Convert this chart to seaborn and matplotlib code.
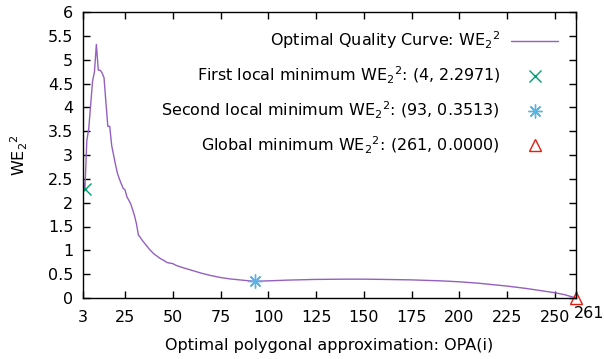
import numpy as np
import pandas as pd
import seaborn as sns
import matplotlib
matplotlib.use("Agg")
import matplotlib.pyplot as plt
import matplotlib.transforms as mtransforms

# Optimal quality curve WE2^2 against the number of polygon vertices
opa_x = [3, 4, 5, 6, 7, 8, 9, 10, 11, 12, 13, 14, 15, 16, 17, 18, 19, 20,
         21, 22, 23, 24, 25, 26, 27, 28, 29, 30, 31, 32, 33, 34, 35, 36, 37,
         38, 39, 40, 41, 42, 43, 44, 45, 46, 47, 48, 49, 50, 52, 55, 60, 65,
         70, 75, 80, 85, 90, 93, 100, 110, 125, 140, 150, 160, 175, 190, 200,
         210, 225, 235, 245, 250, 255, 261]
we_y = [2.47, 2.2971, 3.3, 3.55, 4.05, 4.55, 4.75, 5.32, 4.78, 4.78, 4.72,
        4.62, 4.1, 3.6, 3.6, 3.2, 3.0, 2.8, 2.62, 2.5, 2.4, 2.3, 2.27, 2.12,
        2.05, 1.97, 1.85, 1.72, 1.55, 1.32, 1.27, 1.21, 1.16, 1.11, 1.06, 1.01,
        0.97, 0.93, 0.90, 0.87, 0.84, 0.815, 0.795, 0.77, 0.745, 0.735, 0.73,
        0.72, 0.68, 0.64, 0.58, 0.52, 0.47, 0.43, 0.40, 0.38, 0.36, 0.3513,
        0.36, 0.375, 0.39, 0.395, 0.395, 0.39, 0.38, 0.36, 0.34, 0.31, 0.25,
        0.2, 0.14, 0.11, 0.07, 0.0]

# Highlighted minima
first_min = (4, 2.2971)
second_min = (93, 0.3513)
global_min = (261, 0.0000)

x_ticks = [3, 25, 50, 75, 100, 125, 150, 175, 200, 225, 250, 261]
y_ticks = [0, 0.5, 1, 1.5, 2, 2.5, 3, 3.5, 4, 4.5, 5, 5.5, 6]

sns.set_style("ticks")
plt.rcParams["font.family"] = ["DejaVu Sans"]
plt.rcParams["mathtext.fontset"] = "dejavusans"
plt.rcParams["mathtext.default"] = "regular"
plt.rcParams["text.color"] = "black"
plt.rcParams["axes.labelcolor"] = "black"

FS = 11.5

fig = plt.figure(figsize=(6.04, 3.59), dpi=100)
ax = fig.add_axes([83 / 604, 1 - 298 / 359, (576 - 83) / 604, (298 - 12) / 359])

we = r"WE$_2$$^2$"
df = pd.DataFrame({"opa": opa_x, "we": we_y})
sns.lineplot(data=df, x="opa", y="we", ax=ax, color="#9460c0", lw=1.0,
             label=f"Optimal Quality Curve: {we}")

ax.plot([first_min[0]], [first_min[1]], linestyle="none", marker="x",
        ms=8, mew=1.0, color="#009e73",
        label=f"First local minimum {we}: ({first_min[0]}, {first_min[1]:.4f})")
ax.plot([second_min[0]], [second_min[1]], linestyle="none", marker=(8, 2, 0),
        ms=10, mew=1.0, color="#56b4e9",
        label=f"Second local minimum {we}: ({second_min[0]}, {second_min[1]:.4f})")
ax.plot([global_min[0]], [global_min[1]], linestyle="none", marker="^",
        ms=8, mew=1.0, mfc="none", mec="#e51e10", clip_on=False,
        label=f"Global minimum {we}: ({global_min[0]}, {global_min[1]:.4f})")

ax.set_xlim(x_ticks[0], x_ticks[-1])
ax.set_ylim(y_ticks[0], y_ticks[-1])
ax.set_xticks(x_ticks)
ax.set_xticklabels([str(t) for t in x_ticks])
ax.set_yticks(y_ticks)
ax.set_yticklabels([f"{t:g}" for t in y_ticks])

ax.tick_params(direction="in", length=5, width=1, top=True, right=True,
               labelsize=FS, colors="black")
ax.tick_params(axis="x", pad=9)
ax.tick_params(axis="y", pad=7)
for s in ax.spines.values():
    s.set_color("black")
    s.set_linewidth(1)

# shift the end label so it sits beside the last tick
last = ax.get_xticklabels()[-1]
last.set_transform(last.get_transform() +
                   mtransforms.ScaledTranslation(13 / 100, 5 / 100, fig.dpi_scale_trans))

ax.set_xlabel("Optimal polygonal approximation: OPA(i)", fontsize=FS, labelpad=9)
ax.set_ylabel(we, fontsize=FS, labelpad=13)

leg = ax.legend(loc="upper right", frameon=False, markerfirst=False,
                fontsize=FS, handlelength=2.95, handletextpad=0.7,
                labelspacing=0.86, borderaxespad=0.7)

fig.savefig("out.png", dpi=100, facecolor="white")
